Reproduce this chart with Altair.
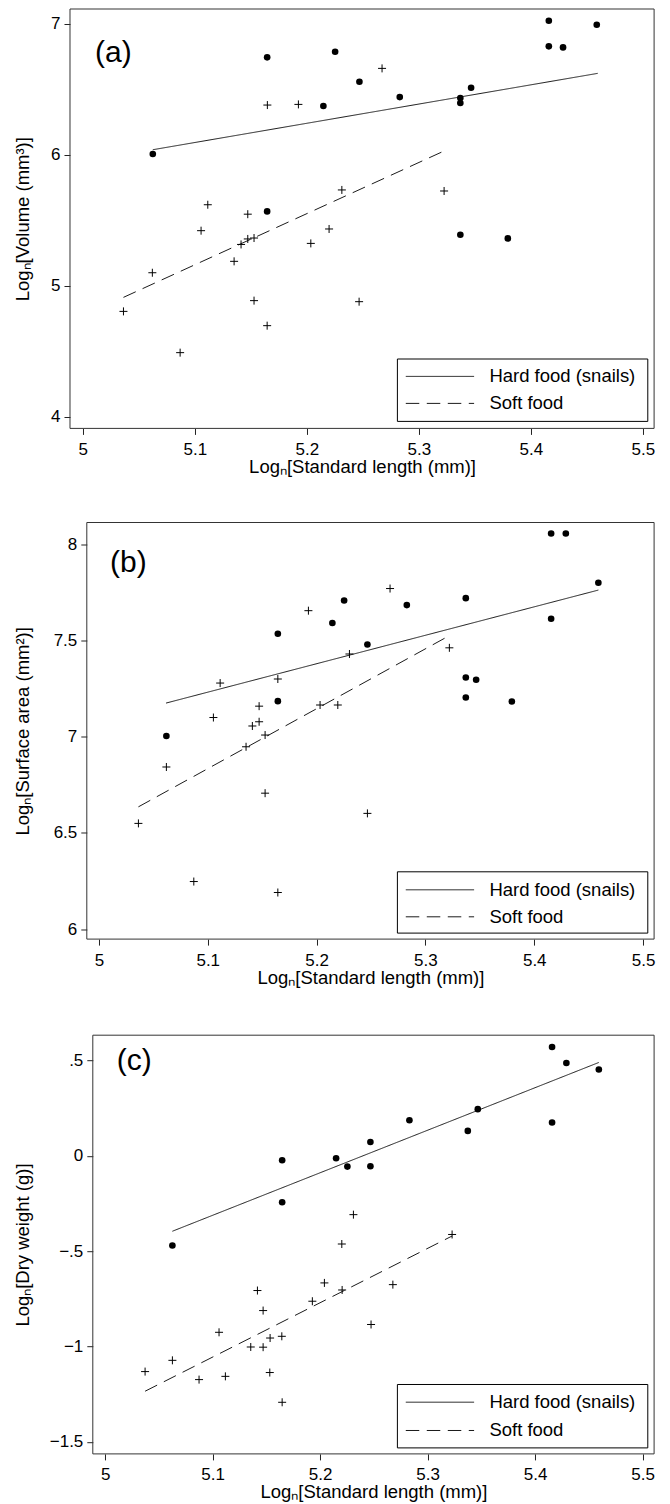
import altair as alt
import pandas as pd

FONT = "Liberation Sans"
groups = ["Hard food (snails)", "Soft food"]
dashes = [[1, 0], [13.5, 7.5]]
x_ticks = [5.0, 5.1, 5.2, 5.3, 5.4, 5.5]
x_title = "Log\u2099[Standard length (mm)]"

# ---------------- Panel (a): volume ----------------
a_hard_x = [5.1646, 5.2253, 5.2470, 5.2148, 5.0625, 5.1646, 5.4161, 5.4589,
            5.4161, 5.4288, 5.2830, 5.3467, 5.3371, 5.3371, 5.3371, 5.3795]
a_hard_y = [6.743, 6.786, 6.557, 6.372, 6.005, 5.567, 7.023, 6.992,
            6.827, 6.819, 6.440, 6.511, 6.433, 6.395, 5.389, 5.361]
a_soft_x = [5.1648, 5.1925, 5.2672, 5.3226, 5.2313, 5.1116, 5.1473, 5.1056,
            5.0621, 5.0363, 5.0869, 5.1351, 5.1413, 5.1473, 5.1529, 5.1529,
            5.1646, 5.2036, 5.2199, 5.2467]
a_soft_y = [6.379, 6.384, 6.659, 5.723, 5.731, 5.618, 5.546, 5.420,
            5.099, 4.804, 4.489, 5.186, 5.315, 5.357, 5.364, 4.886,
            4.695, 5.323, 5.433, 4.878]
a_fit_hard_x = [5.0625, 5.4598]
a_fit_hard_y = [6.038, 6.621]
a_fit_soft_x = [5.0363, 5.3217]
a_fit_soft_y = [4.911, 6.025]
a_y_ticks = [4, 5, 6, 7]

# ---------------- Panel (b): surface area ----------------
b_hard_x = [5.1644, 5.2145, 5.2253, 5.2467, 5.1644, 5.4155, 5.4290, 5.4589,
            5.3371, 5.2829, 5.4155, 5.3371, 5.3466, 5.3371, 5.3794, 5.0620]
b_hard_y = [7.534, 7.590, 7.707, 7.478, 7.184, 8.055, 8.055, 7.799,
            7.719, 7.683, 7.612, 7.307, 7.295, 7.203, 7.182, 7.003]
b_soft_x = [5.1925, 5.2675, 5.1114, 5.1644, 5.2302, 5.2032, 5.2195, 5.3220,
            5.1052, 5.1472, 5.1410, 5.1472, 5.1527, 5.1352, 5.0620, 5.1527,
            5.0363, 5.0872, 5.1644, 5.2467]
b_soft_y = [7.654, 7.769, 7.278, 7.299, 7.429, 7.164, 7.164, 7.461,
            7.099, 7.158, 7.055, 7.077, 7.008, 6.947, 6.842, 6.706,
            6.549, 6.247, 6.190, 6.601]
b_fit_hard_x = [5.0617, 5.4589]
b_fit_hard_y = [7.174, 7.761]
b_fit_soft_x = [5.0363, 5.3206]
b_fit_soft_y = [6.635, 7.520]
b_y_ticks = [6, 6.5, 7, 7.5, 8]

# ---------------- Panel (c): dry weight ----------------
c_hard_x = [5.1647, 5.2149, 5.2254, 5.2468, 5.2468, 5.1647, 5.4158, 5.4291,
            5.4593, 5.2831, 5.3467, 5.3374, 5.4158, 5.0626]
c_hard_y = [-0.023, -0.012, -0.056, 0.073, -0.054, -0.243, 0.571, 0.487,
            0.453, 0.187, 0.245, 0.131, 0.175, -0.470]
c_soft_x = [5.2310, 5.2202, 5.2040, 5.2205, 5.1928, 5.1417, 5.1470, 5.2474,
            5.1060, 5.1644, 5.1535, 5.1355, 5.1470, 5.0626, 5.0372, 5.0874,
            5.1119, 5.1532, 5.1647, 5.3228, 5.2677]
c_soft_y = [-0.308, -0.462, -0.666, -0.703, -0.762, -0.706, -0.811, -0.884,
            -0.925, -0.946, -0.955, -1.002, -1.003, -1.072, -1.131, -1.173,
            -1.156, -1.136, -1.292, -0.412, -0.675]
c_fit_hard_x = [5.0626, 5.4593]
c_fit_hard_y = [-0.395, 0.490]
c_fit_soft_x = [5.0372, 5.3228]
c_fit_soft_y = [-1.234, -0.420]
c_y_ticks = [-1.5, -1, -0.5, 0, 0.5]

# ---------------- layout constants (pixels) ----------------
PAGE_LEFT = 13.0      # page margin + chart padding: where the y titles start
ORIGIN = 69.9         # shared plot-group origin (page x)
RIGHT = 654.0         # right frame edge (page x)
W = RIGHT - ORIGIN    # shared group width


def panel(hx, hy, sx, sy, fhx, fhy, fsx, fsy, ytitle, yticks, ylab_expr,
          xdom, ydom, h, frame_left, tag, tag_xy, leg_box_y, leg_rows_y):
    inset = frame_left - ORIGIN
    hard = pd.DataFrame({"x": hx, "y": hy})
    soft = pd.DataFrame({"x": sx, "y": sy})
    fits = pd.DataFrame({
        "x": fhx + fsx,
        "y": fhy + fsy,
        "group": [groups[0]] * len(fhx) + [groups[1]] * len(fsx),
    })
    xs = alt.Scale(domain=xdom, range=[inset, W], nice=False, zero=False)
    ys = alt.Scale(domain=ydom, nice=False, zero=False)
    xax = alt.Axis(values=x_ticks, labelExpr="format(datum.value, '.1~f')",
                   title=x_title, labelPadding=7, titlePadding=0,
                   labelFlush=False)
    yax = alt.Axis(values=yticks, labelExpr=ylab_expr, title=ytitle,
                   offset=-inset,
                   titleAngle=270, titleBaseline="top", titleAlign="center",
                   titleX=-(frame_left - PAGE_LEFT), titleY=h / 2,
                   labelAngle=0, labelPadding=4, labelFlush=False)

    lines = alt.Chart(fits).mark_line(color="#1a1a1a", strokeWidth=1).encode(
        x=alt.X("x:Q", scale=xs, axis=xax),
        y=alt.Y("y:Q", scale=ys, axis=yax),
        strokeDash=alt.StrokeDash("group:N",
                                  scale=alt.Scale(domain=groups, range=dashes),
                                  legend=None),
    )
    pts_h = alt.Chart(hard).mark_circle(size=44, color="black", opacity=1).encode(
        x="x:Q", y="y:Q")
    pts_s = alt.Chart(soft).mark_point(shape="M-1,0H1M0,-1V1", size=64,
                                       filled=False, color="black",
                                       strokeWidth=1, opacity=1).encode(
        x="x:Q", y="y:Q")

    # plot-region frame
    frame = alt.Chart(pd.DataFrame({"k": [0]})).mark_rect(
        fillOpacity=0, stroke="#333333", strokeWidth=1).encode(
        x=alt.value(inset), x2=alt.value(W), y=alt.value(0), y2=alt.value(h))

    # legend (drawn inside the plot, Stata style)
    bx0, bx1 = 397.3 - ORIGIN, 647.7 - ORIGIN
    sx0, sx1 = 405.7 - ORIGIN, 474.0 - ORIGIN
    tx = 489.3 - ORIGIN
    layers = [lines, pts_h, pts_s, frame]
    layers.append(
        alt.Chart(pd.DataFrame({"k": [0]})).mark_rect(
            fill="white", stroke="black", strokeWidth=1).encode(
            x=alt.value(bx0), x2=alt.value(bx1),
            y=alt.value(leg_box_y[0]), y2=alt.value(leg_box_y[1])))
    for i, g in enumerate(groups):
        layers.append(
            alt.Chart(pd.DataFrame({"label": [g]})).mark_rule(
                color="#1a1a1a", strokeWidth=1, strokeDash=dashes[i]).encode(
                x=alt.value(sx0), x2=alt.value(sx1), y=alt.value(leg_rows_y[i])))
        layers.append(
            alt.Chart(pd.DataFrame({"label": [g]})).mark_text(
                align="left", baseline="middle", font=FONT, fontSize=18.5,
                color="black").encode(
                text="label:N", x=alt.value(tx), y=alt.value(leg_rows_y[i])))
    layers.append(
        alt.Chart(pd.DataFrame({"label": [tag]})).mark_text(
            align="left", baseline="middle", font=FONT, fontSize=30,
            color="black").encode(
            text="label:N", x=alt.value(tag_xy[0] - ORIGIN),
            y=alt.value(tag_xy[1])))
    return alt.layer(*layers).properties(width=W, height=h)


ylab_plain = "format(datum.value, '.1~f')"
ylab_c = ("datum.value == 0 ? '0' : replace(replace(format(datum.value, '.1~f'), "
          "'0.', '.'), '-', '\u2212')")

pa = panel(a_hard_x, a_hard_y, a_soft_x, a_soft_y,
           a_fit_hard_x, a_fit_hard_y, a_fit_soft_x, a_fit_soft_y,
           "Log\u2099[Volume (mm\u00b3)]", a_y_ticks, ylab_plain,
           [4.98857, 5.5101], [3.9107, 7.1122], 419.4, 69.9,
           "(a)", (95.0, 44), (350.0, 412.4), (367.4, 394.4))
pb = panel(b_hard_x, b_hard_y, b_soft_x, b_soft_y,
           b_fit_hard_x, b_fit_hard_y, b_fit_soft_x, b_fit_soft_y,
           "Log\u2099[Surface area (mm\u00b2)]", b_y_ticks, ylab_plain,
           [4.98888, 5.5101], [5.948, 8.112], 416.6, 86.7,
           "(b)", (110.0, 40.8), (349.3, 410.6), (367.3, 394.3))
pc = panel(c_hard_x, c_hard_y, c_soft_x, c_soft_y,
           c_fit_hard_x, c_fit_hard_y, c_fit_soft_x, c_fit_soft_y,
           "Log\u2099[Dry weight (g)]", c_y_ticks, ylab_c,
           [4.98856, 5.5107], [-1.5626, 0.633], 418.7, 92.7,
           "(c)", (116.7, 26), (349.3, 412.7), (367.0, 395.3))

top_two = alt.vconcat(pa, pb, spacing=45.5)
chart = alt.vconcat(top_two, pc, spacing=47.2).properties(
    padding={"left": 5, "top": 0, "right": 5, "bottom": 5}
).configure_view(
    strokeWidth=0
).configure_axis(
    domain=False, grid=False, tickColor="#222222", tickSize=6, tickWidth=1,
    labelColor="black", labelFont=FONT, labelFontSize=17,
    titleFont=FONT, titleFontSize=18.5, titleFontWeight="normal",
    titleColor="black"
)

chart.save("out.html", embed_options={"renderer": "svg", "actions": False})
